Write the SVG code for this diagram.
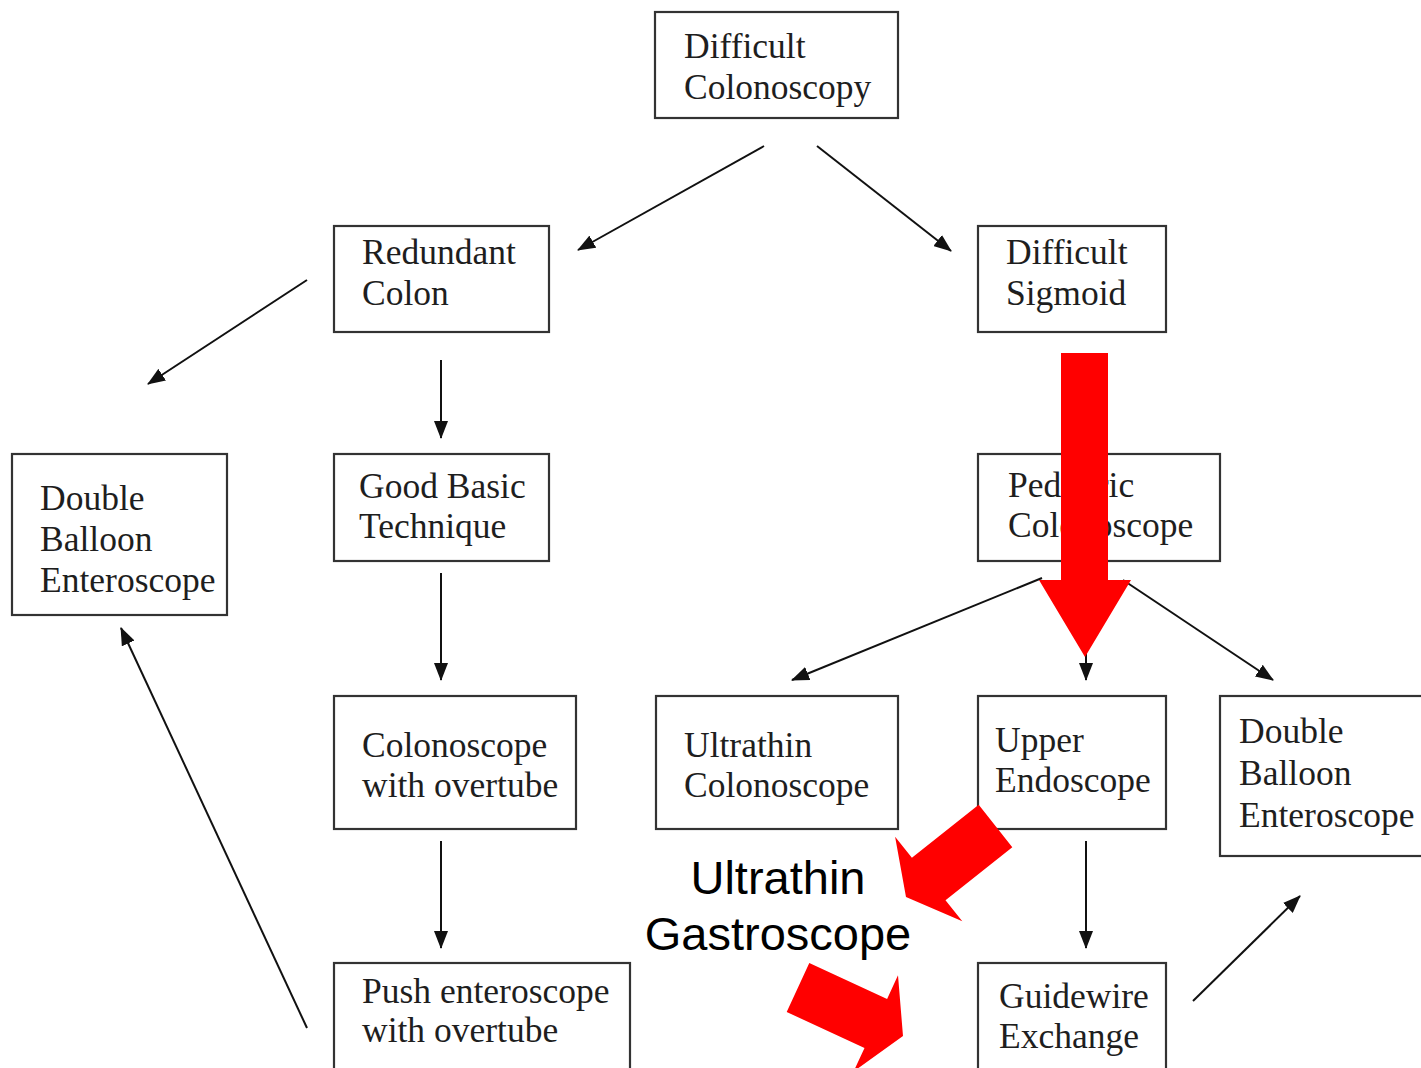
<svg xmlns="http://www.w3.org/2000/svg" width="1421" height="1068" viewBox="0 0 1421 1068">
<style>
.box{fill:#fff;stroke:#333;stroke-width:2.2}
.t{font-family:"Liberation Serif","Times New Roman",serif;font-size:35.5px;fill:#1e1e1e}
.c{stroke:#111;stroke-width:2;fill:none}
.red{fill:#ff0000}
.lab{font-family:"Liberation Sans",Arial,sans-serif;font-size:47px;fill:#000;text-anchor:middle}
</style>
<defs>
<marker id="ah" markerUnits="userSpaceOnUse" markerWidth="18" markerHeight="14" refX="17" refY="7" orient="auto">
<path d="M0,0 L18,7 L0,14 z" fill="#111"/>
</marker>
</defs>
<rect width="1421" height="1068" fill="#fff"/>
<g id="connectors">
<line class="c" x1="764" y1="146" x2="578" y2="250" marker-end="url(#ah)"/>
<line class="c" x1="817" y1="146" x2="951" y2="251" marker-end="url(#ah)"/>
<line class="c" x1="307" y1="280" x2="148" y2="384" marker-end="url(#ah)"/>
<line class="c" x1="441" y1="360" x2="441" y2="438" marker-end="url(#ah)"/>
<line class="c" x1="441" y1="573" x2="441" y2="680" marker-end="url(#ah)"/>
<line class="c" x1="1042" y1="578" x2="792" y2="680" marker-end="url(#ah)"/>
<line class="c" x1="1086" y1="578" x2="1086" y2="680" marker-end="url(#ah)"/>
<line class="c" x1="1123" y1="580" x2="1273" y2="680" marker-end="url(#ah)"/>
<line class="c" x1="441" y1="841" x2="441" y2="948" marker-end="url(#ah)"/>
<line class="c" x1="307" y1="1028" x2="121" y2="628" marker-end="url(#ah)"/>
<line class="c" x1="1086" y1="841" x2="1086" y2="948" marker-end="url(#ah)"/>
<line class="c" x1="1193" y1="1001" x2="1300" y2="896" marker-end="url(#ah)"/>
</g>
<g id="n-difficult-colonoscopy"><rect class="box" x="655" y="12" width="243" height="106"/><text class="t" x="684" y="58">Difficult</text><text class="t" x="684" y="99">Colonoscopy</text></g>
<g id="n-redundant-colon"><rect class="box" x="334" y="226" width="215" height="106"/><text class="t" x="362" y="264">Redundant</text><text class="t" x="362" y="305">Colon</text></g>
<g id="n-difficult-sigmoid"><rect class="box" x="978" y="226" width="188" height="106"/><text class="t" x="1006" y="264">Difficult</text><text class="t" x="1006" y="305">Sigmoid</text></g>
<g id="n-dbe-left"><rect class="box" x="12" y="454" width="215" height="161"/><text class="t" x="40" y="510">Double</text><text class="t" x="40" y="551">Balloon</text><text class="t" x="40" y="592">Enteroscope</text></g>
<g id="n-good-basic"><rect class="box" x="334" y="454" width="215" height="107"/><text class="t" x="359" y="498">Good Basic</text><text class="t" x="359" y="538">Technique</text></g>
<g id="n-pediatric"><rect class="box" x="978" y="454" width="242" height="107"/><text class="t" x="1008" y="497">Pediatric</text><text class="t" x="1008" y="537">Colonoscope</text></g>
<g id="n-colonoscope-overtube"><rect class="box" x="334" y="696" width="242" height="133"/><text class="t" x="362" y="757">Colonoscope</text><text class="t" x="362" y="797">with overtube</text></g>
<g id="n-ultrathin-colonoscope"><rect class="box" x="656" y="696" width="242" height="133"/><text class="t" x="684" y="757">Ultrathin</text><text class="t" x="684" y="797">Colonoscope</text></g>
<g id="n-upper-endoscope"><rect class="box" x="978" y="696" width="188" height="133"/><text class="t" x="995" y="752">Upper</text><text class="t" x="995" y="792">Endoscope</text></g>
<g id="n-dbe-right"><rect class="box" x="1220" y="696" width="210" height="160"/><text class="t" x="1239" y="743">Double</text><text class="t" x="1239" y="785">Balloon</text><text class="t" x="1239" y="827">Enteroscope</text></g>
<g id="n-push-enteroscope"><rect class="box" x="334" y="963" width="296" height="120"/><text class="t" x="362" y="1003">Push enteroscope</text><text class="t" x="362" y="1042">with overtube</text></g>
<g id="n-guidewire"><rect class="box" x="978" y="963" width="188" height="120"/><text class="t" x="999" y="1008">Guidewire</text><text class="t" x="999" y="1048">Exchange</text></g>
<g id="annotation">
<text class="lab" x="778" y="894">Ultrathin</text>
<text class="lab" x="778" y="950">Gastroscope</text>
<polygon class="red" points="1061,353 1108,353 1108,580 1131,580 1085,657 1039,580 1061,580"/>
<polygon class="red" points="978.7,804.8 911.9,857.8 895.1,836.7 906,897 962.3,921.3 945.5,900.2 1012.3,847.2"/>
<polygon class="red" points="809.3,963 887.1,998.9 898,975.3 903,1036 853.6,1071.5 864.5,1047.9 786.7,1012"/>
</g>
</svg>
